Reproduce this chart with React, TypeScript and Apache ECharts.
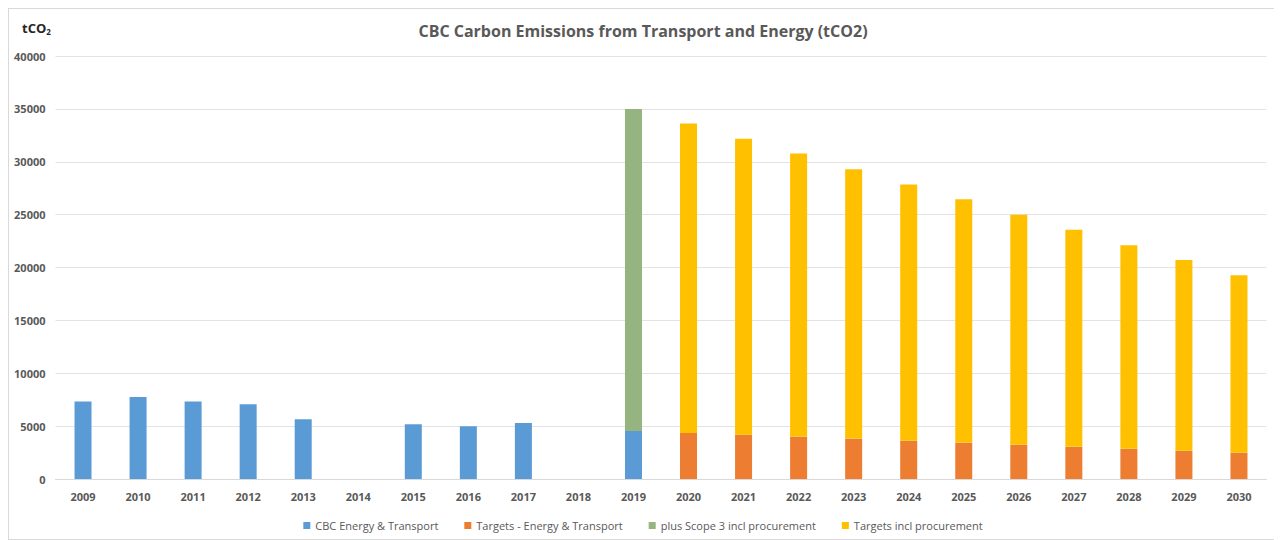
import React, { useEffect, useRef } from "react";
import * as echarts from "echarts";

const years = ["2009","2010","2011","2012","2013","2014","2015","2016","2017","2018","2019","2020","2021","2022","2023","2024","2025","2026","2027","2028","2029","2030"];
const cbcEnergyTransport = [7320, 7760, 7320, 7070, 5660, null, 5180, 4980, 5300, null, 4550, null, null, null, null, null, null, null, null, null, null, null];
const plusScope3 = [null, null, null, null, null, null, null, null, null, null, 30450, null, null, null, null, null, null, null, null, null, null, null];
const targetsEnergyTransport = [null, null, null, null, null, null, null, null, null, null, null, 4350, 4190, 4010, 3820, 3610, 3440, 3230, 3040, 2850, 2660, 2480];
const targetsInclProcurementExtra = [null, null, null, null, null, null, null, null, null, null, null, 29270, 27980, 26770, 25480, 24240, 23020, 21750, 20520, 19260, 18060, 16780];
const yTicks = { min: 0, max: 40000, interval: 5000 };

const FONT = "'Open Sans', 'Noto Sans', sans-serif";

export default function App() {
  const ref = useRef<HTMLDivElement>(null);
  useEffect(() => {
    if (!ref.current) return;
    const chart = echarts.init(ref.current, undefined, { renderer: "svg" });
    const bar = (name: string, data: (number | null)[], color: string) => ({
      name,
      type: "bar",
      stack: "total",
      data,
      barWidth: 17,
      itemStyle: { color },
    });
    chart.setOption({
      animation: false,
      backgroundColor: "#ffffff",
      textStyle: { fontFamily: FONT },
      title: {
        text: "CBC Carbon Emissions from Transport and Energy (tCO2)",
        left: "center",
        top: 9,
        textStyle: { fontSize: 16, fontWeight: "bold", color: "#595959", fontFamily: FONT },
      },
      graphic: [
        {
          type: "text",
          left: 13,
          top: 12,
          style: {
            text: "{a|tCO}{b|2}",
            rich: {
              a: { fontSize: 13, fontWeight: "bold", fill: "#262626", fontFamily: FONT },
              b: { fontSize: 8, fontWeight: "bold", fill: "#262626", fontFamily: FONT, padding: [8, 0, 0, 0] },
            },
          },
        },
      ],
      legend: {
        bottom: 3,
        left: "center",
        itemWidth: 7,
        itemHeight: 7,
        itemGap: 26,
        icon: "rect",
        textStyle: { fontSize: 11, color: "#595959", fontFamily: FONT },
        data: ["CBC Energy & Transport", "Targets - Energy & Transport", "plus Scope 3 incl procurement", "Targets incl procurement"],
      },
      grid: { left: 46.5, right: 10.5, top: 47, bottom: 60 },
      xAxis: {
        type: "category",
        data: years,
        axisLine: { show: true, lineStyle: { color: "#d9d9d9" } },
        axisTick: { show: false },
        axisLabel: { fontSize: 11, fontWeight: "bold", color: "#595959", margin: 12, fontFamily: FONT },
      },
      yAxis: {
        type: "value",
        min: yTicks.min,
        max: yTicks.max,
        interval: yTicks.interval,
        axisLine: { show: false },
        axisTick: { show: false },
        splitLine: { lineStyle: { color: "#e3e3e3" } },
        axisLabel: {
          fontSize: 11,
          fontWeight: "bold",
          color: "#595959",
          margin: 10,
          fontFamily: FONT,
          formatter: (v: number) => String(v),
        },
      },
      series: [
        bar("CBC Energy & Transport", cbcEnergyTransport, "#5B9BD5"),
        bar("Targets - Energy & Transport", targetsEnergyTransport, "#ED7D31"),
        bar("plus Scope 3 incl procurement", plusScope3, "#95B47F"),
        bar("Targets incl procurement", targetsInclProcurementExtra, "#FFC000"),
      ],
    });
    return () => chart.dispose();
  }, []);
  return (
    <div style={{ width: 1268, height: 530, border: "1px solid #d9d9d9" }}>
      <div ref={ref} style={{ width: 1268, height: 530 }} />
    </div>
  );
}
